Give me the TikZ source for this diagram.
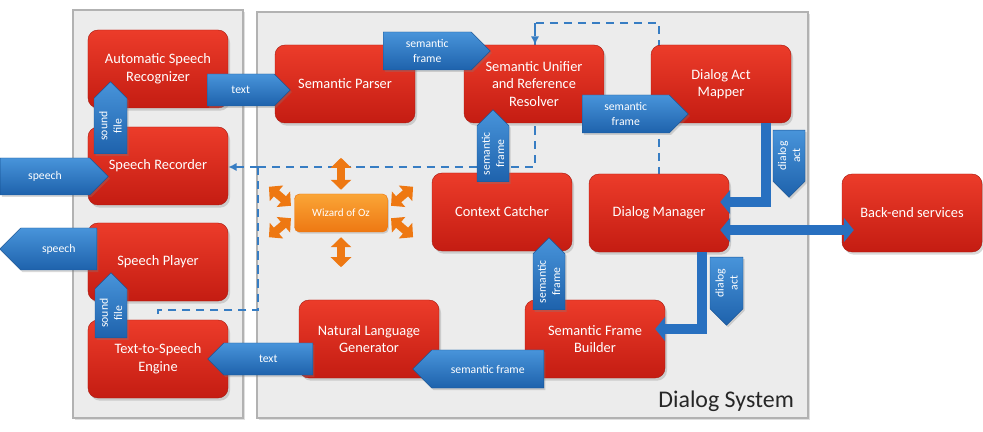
\documentclass[tikz,border=0pt]{standalone}
\usepackage{fontspec}
\setmainfont{Carlito}
\usetikzlibrary{shapes.symbols,arrows.meta,shadows,backgrounds}

\definecolor{boxred}{RGB}{236,60,42}
\definecolor{boxreddark}{RGB}{196,28,18}
\definecolor{boxredline}{RGB}{170,25,15}
\definecolor{tagblue}{RGB}{72,148,218}
\definecolor{tagbluedark}{RGB}{30,98,172}
\definecolor{tagblueline}{RGB}{25,85,150}
\definecolor{flowblue}{RGB}{40,112,192}
\definecolor{ozorange}{RGB}{250,165,55}
\definecolor{ozorangedark}{RGB}{238,120,18}
\definecolor{panelgray}{RGB}{236,236,236}
\definecolor{panelline}{RGB}{178,178,178}
\definecolor{dashblue}{RGB}{55,125,195}

\tikzset{
  module/.style={rectangle, rounded corners=0.3cm, draw=boxredline, line width=0.4pt,
    top color=boxred, bottom color=boxreddark, text=white, align=center,
    minimum width=4.2cm, minimum height=2.34cm, font=\fontsize{12.3}{15}\selectfont,
    drop shadow={opacity=0.3, shadow xshift=0.6mm, shadow yshift=-0.8mm}},
  tag/.style={signal, signal from=nowhere, signal pointer angle=90, draw=tagblueline,
    top color=tagblue, bottom color=tagbluedark, text=white, align=center, inner sep=1pt,
    font=\fontsize{10}{12}\selectfont,
    drop shadow={opacity=0.3, shadow xshift=0.5mm, shadow yshift=-0.6mm}},
  wizard/.style={rectangle, rounded corners=0.15cm, draw=ozorangedark,
    top color=ozorange, bottom color=ozorangedark, text=white, align=center,
    minimum width=2.79cm, minimum height=1.14cm, font=\fontsize{9.5}{11}\selectfont,
    drop shadow={opacity=0.3, shadow xshift=0.4mm, shadow yshift=-0.5mm}},
  ozarrow/.style={draw=ozorangedark, line width=0.24cm,
    {Triangle[length=0.3cm,width=0.6cm]}-{Triangle[length=0.3cm,width=0.6cm]}},
  flow/.style={draw=flowblue, line width=0.3cm, -{Triangle[length=0.3cm,width=0.72cm]}},
  wozline/.style={draw=dashblue, line width=2.4pt, dash pattern=on 7pt off 5pt},
  panel/.style={fill=panelgray, draw=panelline, line width=1.2pt,
    drop shadow={opacity=0.25, shadow xshift=0.5mm, shadow yshift=-0.5mm}}
}

\begin{document}
\begin{tikzpicture}[x=0.03cm, y=-0.03cm]
  \useasboundingbox (0,0) rectangle (983,432);

  % modules
  \node[module] (asr) at (158,69) {Automatic Speech\\Recognizer};
  \node[module] (recorder) at (158,166) {Speech Recorder};
  \node[module] (player) at (158,262) {Speech Player};
  \node[module] (tts) at (158,359) {Text-to-Speech\\Engine};
  \node[module] (parser) at (345,84) {Semantic Parser};
  \node[module] (unifier) at (534,84) {Semantic Unifier\\and Reference\\Resolver};
  \node[module] (mapper) at (721,84) {Dialog Act\\Mapper};
  \node[module] (context) at (502,212) {Context Catcher};
  \node[module] (manager) at (659,213) {Dialog Manager};
  \node[module] (backend) at (912,213) {Back-end services};
  \node[module] (nlg) at (369,339) {Natural Language\\Generator};
  \node[module] (sfb) at (595,339) {Semantic Frame\\Builder};
  \node[wizard] (woz) at (341,213) {Wizard of Oz};

  % thick connectors
  \draw[flow] ([xshift=-0.75cm]mapper.south east) |- ([xshift=-0.27cm,yshift=0.33cm]manager.east);
  \draw[flow, {Triangle[length=0.3cm,width=0.72cm]}-{Triangle[length=0.3cm,width=0.72cm]}]
    ([xshift=-0.27cm,yshift=-0.51cm]manager.east) -- ([xshift=0.36cm,yshift=-0.51cm]backend.west);
  \draw[flow] ([xshift=-0.81cm]manager.south east) |- ([xshift=-0.3cm,yshift=0.3cm]sfb.east);

  % labelled block arrows
  \node[tag, signal to=east, anchor=west, minimum width=3.24cm, minimum height=1.11cm] (speechin) at (0,176.5) {speech};
  \node[tag, signal to=east, anchor=west, minimum width=2.49cm, minimum height=0.96cm] (textin) at (207,90) {text};
  \node[tag, signal to=east, anchor=west, rotate=90, minimum width=2.16cm, minimum height=0.99cm] (soundin) at (110.5,154) {sound\\file};
  \node[tag, signal to=east, anchor=west, minimum width=3.21cm, minimum height=1.14cm] (framea) at (383,51) {semantic\\frame};
  \node[tag, signal to=east, anchor=west, minimum width=3.18cm, minimum height=1.14cm] (frameb) at (582,114) {semantic\\frame};
  \node[tag, signal to=east, anchor=west, rotate=90, minimum width=2.16cm, minimum height=0.96cm] (framec) at (493,182) {semantic\\frame};
  \node[tag, signal to=east, anchor=west, rotate=90, minimum width=2.16cm, minimum height=0.96cm] (framed) at (549,310) {semantic\\frame};
  \node[tag, signal to=west, anchor=east, rotate=90, minimum width=2.01cm, minimum height=0.96cm] (acta) at (789,130) {dialog\\act};
  \node[tag, signal to=west, anchor=east, rotate=90, minimum width=2.04cm, minimum height=0.99cm] (actb) at (726.5,257) {dialog\\act};
  \node[tag, signal to=west, anchor=east, minimum width=3.93cm, minimum height=1.14cm] (framee) at (544,369) {semantic frame};
  \node[tag, signal to=west, anchor=east, minimum width=3.15cm, minimum height=0.96cm] (textout) at (313,359) {text};
  \node[tag, signal to=west, anchor=east, minimum width=2.91cm, minimum height=1.26cm] (speechout) at (97,249) {speech};
  \node[tag, signal to=east, anchor=west, rotate=90, minimum width=1.95cm, minimum height=0.96cm] (soundout) at (111,338) {sound\\file};

  % wizard of oz arrows
  \draw[ozarrow] ([yshift=0.12cm]woz.north) -- ++(0,-32);
  \draw[ozarrow] ([yshift=-0.15cm]woz.south) -- ++(0,30);
  \draw[ozarrow] ([xshift=-0.1cm,yshift=-0.36cm]woz.north west) -- ++(-22,-19);
  \draw[ozarrow] ([xshift=-0.1cm,yshift=0.42cm]woz.south west) -- ++(-22,19);
  \draw[ozarrow] ([xshift=0.1cm,yshift=-0.36cm]woz.north east) -- ++(22,-19);
  \draw[ozarrow] ([xshift=0.1cm,yshift=0.42cm]woz.south east) -- ++(22,19);

  \node[anchor=base east, text=black!85, font=\fontsize{20.4}{22}\selectfont] (dslabel) at (798,407) {Dialog System};

  \begin{scope}[on background layer]
    % panels
    \draw[panel] (73,10) rectangle (243,418);
    \draw[panel] (257,12) rectangle (808,418);
    % wizard of oz lines
    \coordinate (wa) at (258,167);
    \coordinate (wb) at (535,167);
    \coordinate (wc) at (535,23);
    \coordinate (wd) at (659,23);
    \coordinate (we) at (258,310);
    \coordinate (wf) at (158,310);
    \draw[wozline, -{Latex[length=2.5mm,width=2.5mm]}] (wa) -- (wa -| recorder.east);
    \draw[wozline] (wa) -- (wb) -- (wc) -- (wd) -- (wd |- manager.north);
    \draw[wozline, -{Latex[length=2.5mm,width=2.5mm]}] (wc) -- (wc |- unifier.north);
    \draw[wozline] (wa) -- (we) -- (wf) -- (wf |- tts.north);
  \end{scope}
\end{tikzpicture}
\end{document}
